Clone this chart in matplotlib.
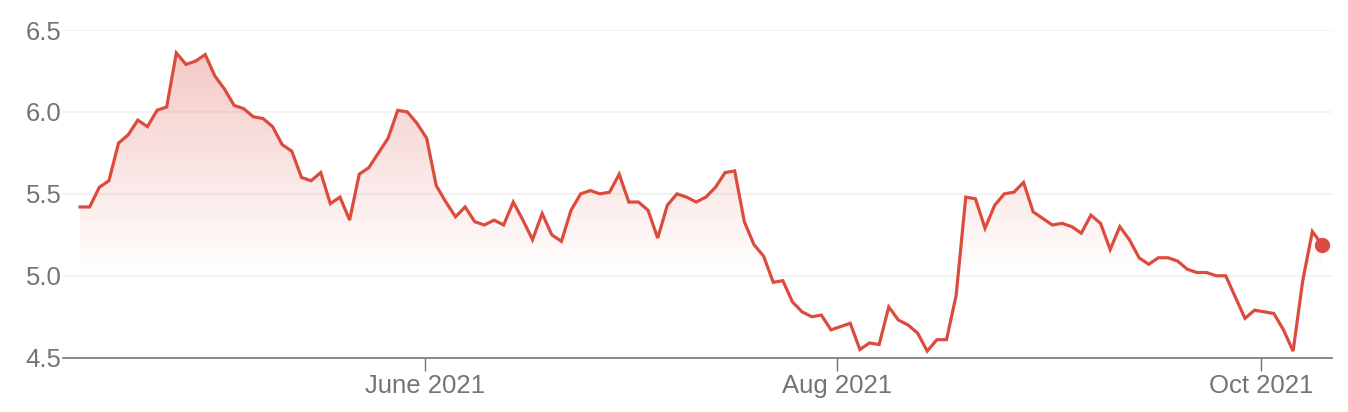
import numpy as np
import matplotlib
matplotlib.use("Agg")
import matplotlib.pyplot as plt
from matplotlib.patches import Polygon

# ---- data (trading-day series) ----
values = [
    5.42, 5.42, 5.54, 5.58, 5.81, 5.86, 5.95, 5.91, 6.01, 6.03,
    6.36, 6.29, 6.31, 6.35, 6.22, 6.14, 6.04, 6.02, 5.97, 5.96,
    5.91, 5.80, 5.76, 5.60, 5.58, 5.63, 5.44, 5.48, 5.34, 5.62,
    5.66, 5.75, 5.84, 6.01, 6.00, 5.93, 5.84, 5.55, 5.45, 5.36,
    5.42, 5.33, 5.31, 5.34, 5.31, 5.45, 5.34, 5.22, 5.38, 5.25,
    5.21, 5.40, 5.50, 5.52, 5.50, 5.51, 5.62, 5.45, 5.45, 5.40,
    5.23, 5.43, 5.50, 5.48, 5.45, 5.48, 5.54, 5.63, 5.64, 5.33,
    5.19, 5.12, 4.96, 4.97, 4.84, 4.78, 4.75, 4.76, 4.67, 4.69,
    4.71, 4.55, 4.59, 4.58, 4.81, 4.73, 4.70, 4.65, 4.54, 4.61,
    4.61, 4.88, 5.48, 5.47, 5.29, 5.43, 5.50, 5.51, 5.57, 5.39,
    5.35, 5.31, 5.32, 5.30, 5.26, 5.37, 5.32, 5.16, 5.30, 5.22,
    5.11, 5.07, 5.11, 5.11, 5.09, 5.04, 5.02, 5.02, 5.00, 5.00,
    4.87, 4.74, 4.79, 4.78, 4.77, 4.67, 4.54, 4.97, 5.27, 5.19,
]
tick_labels = ["June 2021", "Aug 2021", "Oct 2021"]
tick_index = [35.8, 78.6, 122.7]          # trading-day position of month starts
y_ticks = [4.5, 5.0, 5.5, 6.0, 6.5]
y_tick_labels = ["4.5", "5.0", "5.5", "6.0", "6.5"]

# ---- style ----
LINE = "#db4c3f"
GRAY = "#70757a"
GRID = "#f1f1f1"
plt.rcParams['font.family'] = ['Liberation Sans', 'DejaVu Sans']

W, H = 1348, 412
fig = plt.figure(figsize=(W / 100, H / 100), dpi=100)
left_px, right_px, top_px, bot_px = 63, 1332, 30, 357.7
ax = fig.add_axes([left_px / W, 1 - bot_px / H,
                   (right_px - left_px) / W, (bot_px - top_px) / H])

x = np.arange(len(values))
y = np.array(values)
ymin, ymax = 4.5, 6.5
xmin, xmax = -1.77, len(values) - 1 + 1.04
ax.set_xlim(xmin, xmax)
ax.set_ylim(ymin, ymax)

# gridlines
for t in y_ticks[1:]:
    ax.axhline(t, color=GRID, lw=1.2, zorder=0)

# gradient fill under the line
grad_top, grad_bot = y.max(), 5.0
ys = np.linspace(ymin, ymax, 400)
alpha = np.clip((ys - grad_bot) / (grad_top - grad_bot), 0, 1) * 0.30
rgba = np.zeros((len(ys), 2, 4))
rgba[..., :3] = matplotlib.colors.to_rgb(LINE)
rgba[..., 3] = alpha[:, None]
im = ax.imshow(rgba, extent=(x[0], x[-1], ymin, ymax), origin='lower',
               aspect='auto', zorder=1, interpolation='bilinear')
poly_pts = np.column_stack([np.r_[x, x[-1], x[0]], np.r_[y, ymin, ymin]])
clip = Polygon(poly_pts, closed=True, transform=ax.transData,
               facecolor='none', edgecolor='none')
ax.add_patch(clip)
im.set_clip_path(clip)

# line and last point
ax.plot(x, y, color=LINE, lw=2.3, zorder=3, solid_joinstyle='miter')
ax.plot(x[-1], y[-1], 'o', color=LINE, ms=10, zorder=4)

# axes styling
for s in ['top', 'right', 'left']:
    ax.spines[s].set_visible(False)
ax.spines['bottom'].set_color(GRAY)
ax.spines['bottom'].set_linewidth(1.2)
ax.spines['bottom'].set_zorder(5)

ax.set_yticks(y_ticks)
ax.set_yticklabels(y_tick_labels)
ax.set_xticks(tick_index)
ax.set_xticklabels(tick_labels)
ax.tick_params(axis='y', length=0, pad=1, labelsize=18.5, labelcolor=GRAY)
ax.tick_params(axis='x', length=9, width=1, color=GRAY, pad=3,
               labelsize=18.5, labelcolor=GRAY)

fig.savefig("out.png", dpi=100)
